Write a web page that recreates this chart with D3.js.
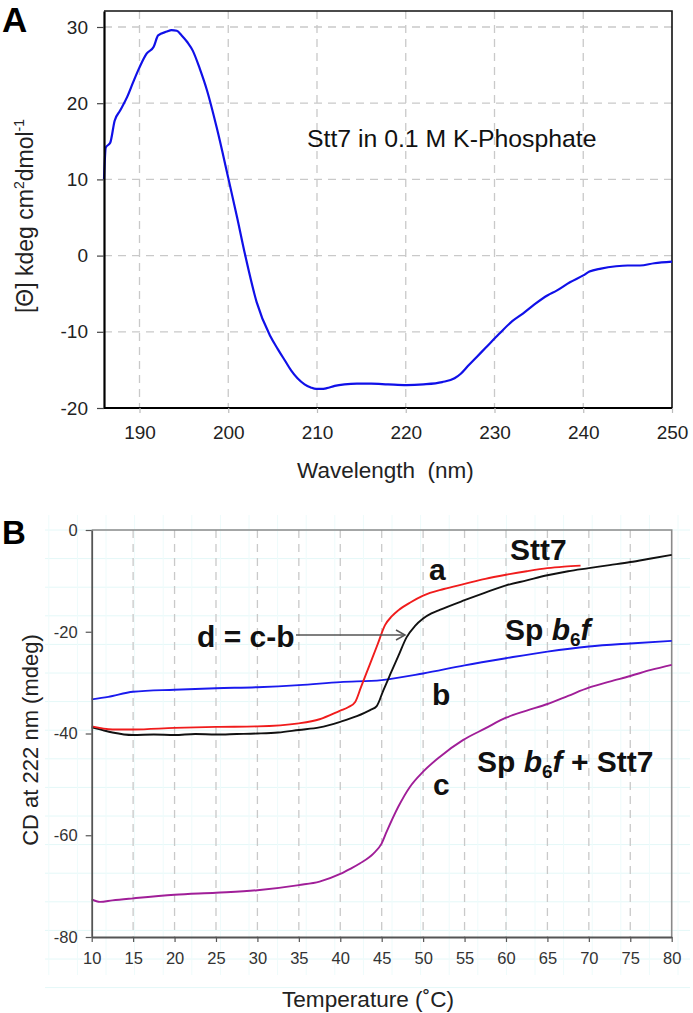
<!DOCTYPE html>
<html>
<head>
<meta charset="utf-8">
<script src="https://cdn.jsdelivr.net/npm/d3@7/dist/d3.min.js"></script>
<style>
  html, body { margin: 0; padding: 0; background: #fff; }
  svg { display: block; font-family: "Liberation Sans", Arial, Helvetica, sans-serif; }
</style>
</head>
<body>
<svg id="chart" width="693" height="1013"></svg>
<script>
// ---------------- Panel A data: CD spectrum of Stt7 ----------------
const wavelength = [186, 186.2, 186.7, 187.2, 187.8, 188.6, 189.3, 190, 190.8, 191.6, 192.1, 193.1, 193.6, 194.2, 194.75, 195.4, 196, 196.8, 197.6, 198.7, 200, 201, 201.9, 203.2, 204.7, 205.6, 206.4, 207.1, 207.8, 208.6, 209.3, 209.9, 210.5, 211.1, 212, 213.1, 214.5, 216.1, 218, 220.1, 222, 224.1, 225.5, 226.2, 227, 228, 229, 230.5, 232, 233.2, 234.5, 236, 237, 238.5, 240, 240.7, 242, 243.7, 245, 246.4, 248, 250];
const theta = [10, 14.2, 14.8, 17.7, 19, 20.8, 22.8, 24.7, 26.5, 27.4, 28.9, 29.4, 29.6, 29.5, 28.9, 28.0, 26.9, 24.5, 21.7, 16.8, 10.2, 5.0, 0.1, -6.1, -10.5, -12.3, -13.8, -15.1, -16.1, -16.9, -17.3, -17.5, -17.5, -17.4, -17.1, -16.9, -16.8, -16.8, -16.9, -17.0, -16.9, -16.6, -16.1, -15.5, -14.5, -13.3, -12.1, -10.3, -8.6, -7.6, -6.4, -5.2, -4.6, -3.5, -2.6, -2.1, -1.7, -1.4, -1.3, -1.3, -1.0, -0.8];
const wavelengthTicks = [190, 200, 210, 220, 230, 240, 250];
const thetaTicks = [-20, -10, 0, 10, 20, 30];

// ---------------- Panel B data: thermal melts at 222 nm ----------------
const tempA = [10, 12.5, 15, 20, 25, 30, 35, 37.5, 40, 41, 41.8, 42.5, 43.5, 44.5, 45.4, 46.2, 47, 48.5, 50, 52.5, 55, 57.5, 60, 62.5, 65, 67, 69];
const cdA   = [-38.6, -39.2, -39.2, -38.9, -38.7, -38.6, -38, -37.2, -35.5, -34.8, -33.8, -30.9, -26.7, -22.5, -18.7, -17, -15.8, -14.2, -12.9, -11.6, -10.6, -9.6, -8.8, -8.1, -7.5, -7.2, -7.0];

const tempK = [10, 11, 12.5, 15, 17.5, 20, 22.5, 25, 27.5, 30, 32.5, 35, 37.5, 40, 42, 43.6, 44.4, 45.2, 46, 47, 48, 49, 50, 51, 52, 55, 57.5, 60, 62.5, 65, 67.5, 70, 72.5, 75, 77.5, 80];
const cdK   = [-38.8, -39.2, -39.8, -40.3, -40.2, -40.3, -40.1, -40.2, -40.1, -40, -39.8, -39.3, -38.8, -37.7, -36.6, -35.4, -34.6, -31.5, -28.5, -24.8, -21.1, -18.9, -17.4, -16.4, -15.7, -13.8, -12.3, -10.9, -9.9, -8.9, -8.1, -7.5, -6.9, -6.3, -5.6, -4.9];

const tempB = [10, 12, 15, 20, 25, 30, 35, 40, 45, 50, 55, 60, 65, 70, 75, 80];
const cdB   = [-33.3, -32.8, -31.8, -31.4, -31.1, -30.9, -30.5, -29.9, -29.5, -28.2, -26.6, -25.2, -23.9, -22.9, -22.3, -21.8];

const tempC = [10, 11, 12.5, 15, 20, 25, 30, 35, 37.5, 40, 41.2, 42.4, 44, 45, 45.6, 47, 48.4, 50, 52, 54.8, 57.5, 60, 62.5, 65, 67.5, 70, 72.5, 75, 77.5, 80];
const cdC   = [-72.6, -73.1, -72.8, -72.4, -71.7, -71.3, -70.8, -69.8, -69.1, -67.6, -66.6, -65.5, -63.6, -61.6, -59.3, -54.4, -50.5, -47.5, -44.6, -41.3, -39, -36.9, -35.5, -34.2, -32.6, -31, -29.8, -28.7, -27.5, -26.5];

const tempTicks = [10, 15, 20, 25, 30, 35, 40, 45, 50, 55, 60, 65, 70, 75, 80];
const cdTicks = [-80, -60, -40, -20, 0];

const zip = (xs, ys) => xs.map((x, i) => [x, ys[i]]);
const plain = d => String(d);   // hyphen-minus like the original

const svg = d3.select("#chart");

// =================== PANEL A ===================
const xA = d3.scaleLinear().domain([186, 250]).range([104, 672]);
const yA = d3.scaleLinear().domain([-20, 32.1]).range([408, 11]);
const gA = svg.append("g");

// dashed grid
gA.append("g").selectAll("line").data(wavelengthTicks.filter(d => d < 250)).join("line")
  .attr("x1", d => xA(d)).attr("x2", d => xA(d)).attr("y1", yA.range()[1]).attr("y2", yA.range()[0])
  .attr("stroke", "#c9c9c9").attr("stroke-width", 1.3).attr("stroke-dasharray", "8,6");
gA.append("g").selectAll("line").data(thetaTicks.filter(d => d > -20)).join("line")
  .attr("x1", xA.range()[0]).attr("x2", xA.range()[1]).attr("y1", d => yA(d)).attr("y2", d => yA(d))
  .attr("stroke", "#c9c9c9").attr("stroke-width", 1.3).attr("stroke-dasharray", "8,6");

// frame (top/right)
gA.append("path")
  .attr("d", `M${xA.range()[0]},${yA.range()[1]}H${xA.range()[1]}V${yA.range()[0]}`)
  .attr("fill", "none").attr("stroke", "#111").attr("stroke-width", 1.6);

// curve
gA.append("path").datum(zip(wavelength, theta))
  .attr("d", d3.line().x(d => xA(d[0])).y(d => yA(d[1])).curve(d3.curveMonotoneX))
  .attr("fill", "none").attr("stroke", "#1010e8").attr("stroke-width", 2.2);

// axes
const axAx = gA.append("g").attr("transform", `translate(0,${yA(-20)})`)
  .call(d3.axisBottom(xA).tickValues(wavelengthTicks).tickFormat(plain).tickSize(5).tickPadding(13).tickSizeOuter(0));
const axAy = gA.append("g").attr("transform", `translate(${xA(186)},0)`)
  .call(d3.axisLeft(yA).tickValues(thetaTicks).tickFormat(plain).tickSize(7).tickPadding(9).tickSizeOuter(0));
[axAx, axAy].forEach(a => {
  a.select(".domain").attr("stroke", "#000").attr("stroke-width", 2.2);
  a.selectAll(".tick line").attr("stroke", "#444").attr("stroke-width", 1.2);
  a.selectAll(".tick text").attr("font-size", 19).attr("fill", "#222")
    .attr("font-family", "Liberation Sans, Arial, sans-serif");
});
axAx.selectAll(".tick line").attr("stroke", "#bbb");
axAx.select(".domain").attr("d", `M${xA.range()[0]},0H${xA.range()[1]}`);

// labels
gA.append("text").attr("x", 2).attr("y", 32).attr("font-size", 35).attr("font-weight", "bold").text("A");

gA.append("text").attr("x", 307).attr("y", 147).attr("font-size", 24.8).attr("fill", "#111")
  .text("Stt7 in 0.1 M K-Phosphate");

gA.append("text").attr("x", 297).attr("y", 478).attr("font-size", 22.5).attr("fill", "#222")
  .text("Wavelength\u00a0 (nm)");

const yLabA = gA.append("text").attr("transform", "translate(33,216) rotate(-90)")
  .attr("text-anchor", "middle").attr("font-size", 23).attr("fill", "#222");
yLabA.append("tspan").text("[\u0398] kdeg cm");
yLabA.append("tspan").attr("font-size", 14).attr("dy", -9).text("2");
yLabA.append("tspan").attr("dy", 9).text("dmol");
yLabA.append("tspan").attr("font-size", 14).attr("dy", -9).text("-1");

// =================== PANEL B ===================
const xB = d3.scaleLinear().domain([10, 80]).range([91.7, 671.7]);
const yB = d3.scaleLinear().domain([-80, 0]).range([937, 530]);
const gB = svg.append("g");

// faint graph-paper background
const paperH = d3.range(530, 1000, 28.6);
const paperV = d3.range(91.7 - 28.6 * 1.5, 690, 28.6);
gB.append("g").selectAll("line").data(paperH).join("line")
  .attr("x1", 45).attr("x2", 690).attr("y1", d => d).attr("y2", d => d)
  .attr("stroke", "#e4f8f8").attr("stroke-width", 1);
gB.append("g").selectAll("line").data(paperV).join("line")
  .attr("x1", d => d).attr("x2", d => d).attr("y1", 515).attr("y2", 975)
  .attr("stroke", "#eefbfb").attr("stroke-width", 1);

// dashed vertical grid
gB.append("g").selectAll("line").data(tempTicks.filter(d => d > 10 && d < 80)).join("line")
  .attr("x1", d => xB(d)).attr("x2", d => xB(d)).attr("y1", yB(0)).attr("y2", yB(-80))
  .attr("stroke", "#c9c9c9").attr("stroke-width", 1.3).attr("stroke-dasharray", "8,6");

// frame top/right
gB.append("path")
  .attr("d", `M${xB(10)},${yB(0)}H${xB(80)}V${yB(-80)}`)
  .attr("fill", "none").attr("stroke", "#8a8a8a").attr("stroke-width", 1.6);

// curves
const lineB = d3.line().x(d => xB(d[0])).y(d => yB(d[1])).curve(d3.curveMonotoneX);
const seriesB = [
  { t: tempB, v: cdB, color: "#1a1aee" },
  { t: tempC, v: cdC, color: "#a01e98" },
  { t: tempK, v: cdK, color: "#111111" },
  { t: tempA, v: cdA, color: "#f01c1c" }
];
gB.append("g").selectAll("path").data(seriesB).join("path")
  .attr("d", s => lineB(zip(s.t, s.v)))
  .attr("fill", "none").attr("stroke", s => s.color).attr("stroke-width", 1.9);

// axes
const axBx = gB.append("g").attr("transform", `translate(0,${yB(-80)})`)
  .call(d3.axisBottom(xB).tickValues(tempTicks).tickFormat(plain).tickSize(5).tickPadding(10).tickSizeOuter(0));
const axBy = gB.append("g").attr("transform", `translate(${xB(10)},0)`)
  .call(d3.axisLeft(yB).tickValues(cdTicks).tickFormat(plain).tickSize(6).tickPadding(8).tickSizeOuter(0));
[axBx, axBy].forEach(a => {
  a.select(".domain").attr("stroke", "#555").attr("stroke-width", 1.8);
  a.selectAll(".tick line").attr("stroke", "#555").attr("stroke-width", 1.2);
  a.selectAll(".tick text").attr("font-size", 16.5).attr("fill", "#333")
    .attr("font-family", "Liberation Sans, Arial, sans-serif");
});

// labels
gB.append("text").attr("x", 2).attr("y", 544).attr("font-size", 33).attr("font-weight", "bold").text("B");

gB.append("text").attr("x", 282).attr("y", 1007).attr("font-size", 22.6).attr("fill", "#222")
  .text("Temperature (\u02DAC)");

gB.append("text").attr("transform", "translate(38,740) rotate(-90)")
  .attr("text-anchor", "middle").attr("font-size", 22).attr("fill", "#222")
  .text("CD at 222 nm (mdeg)");

const bold = (x, y, parts) => {
  const t = gB.append("text").attr("x", x).attr("y", y).attr("font-size", 30)
    .attr("font-weight", "bold").attr("fill", "#111");
  parts.forEach(p => {
    const s = t.append("tspan").text(p.s);
    if (p.i) s.attr("font-style", "italic");
    if (p.sub) s.attr("font-size", 19).attr("dy", 6);
    if (p.up) s.attr("dy", -6);
  });
  return t;
};
bold(510, 560, [{ s: "Stt7" }]);
bold(429, 580, [{ s: "a" }]);
bold(197, 647, [{ s: "d = c-b" }]);
bold(505, 640, [{ s: "Sp " }, { s: "b", i: true }, { s: "6", sub: true }, { s: "f", i: true, up: true }]);
bold(432, 705, [{ s: "b" }]);
bold(477, 772, [{ s: "Sp " }, { s: "b", i: true }, { s: "6", sub: true }, { s: "f", i: true, up: true }, { s: " + Stt7" }]);
bold(433, 795, [{ s: "c" }]);

// arrow d = c-b
const arrowY = 635, ax0 = 296, ax1 = 405;
gB.append("line").attr("x1", ax0).attr("x2", ax1).attr("y1", arrowY).attr("y2", arrowY)
  .attr("stroke", "#555").attr("stroke-width", 1.5);
gB.append("path").attr("d", `M${ax1 - 9},${arrowY - 5}L${ax1},${arrowY}L${ax1 - 9},${arrowY + 5}`)
  .attr("fill", "none").attr("stroke", "#555").attr("stroke-width", 1.5);
</script>
</body>
</html>
